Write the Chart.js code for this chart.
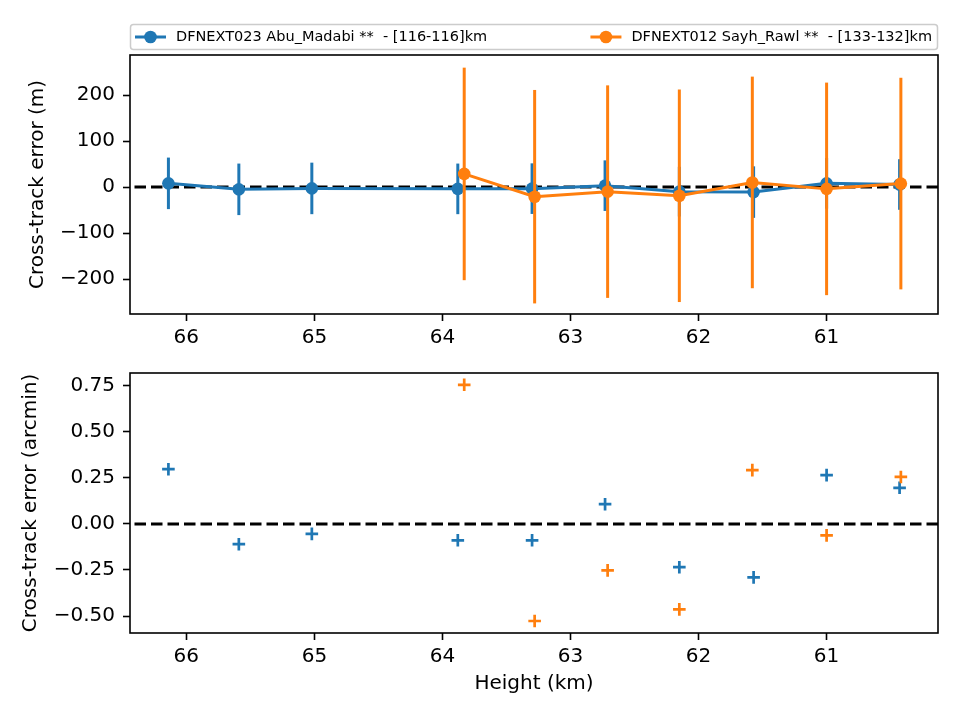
<!DOCTYPE html>
<html lang="en">
<head>
  <meta charset="UTF-8" />
  <title>Cross-track error vs height</title>
  <script src="https://cdn.jsdelivr.net/npm/chart.js"></script>
  <style>
    body { margin: 0; background: #fff; }
    #wrap { position: relative; width: 960px; height: 720px; }
    canvas { position: absolute; left: 0; }
  </style>
</head>
<body>
<div id="wrap">
  <canvas id="topChart" width="960" height="360" style="top:0"></canvas>
  <canvas id="bottomChart" width="960" height="380" style="top:340px"></canvas>
</div>
<script>
  // --- data ---
  const labelA = 'DFNEXT023 Abu_Madabi **  - [116-116]km';
  const labelB = 'DFNEXT012 Sayh_Rawl **  - [133-132]km';

  const heightA = [66.14, 65.59, 65.02, 63.88, 63.30, 62.73, 62.15, 61.57, 61.00, 60.43];
  const errMetresA = [8, -5, -3, -4, -3.5, 3, -10, -11, 8, 5.5];
  const sigmaMetresA = [56, 56, 56, 55, 55, 55, 54, 56, 55, 55];
  const errArcminA = [0.297, -0.110, -0.054, -0.089, -0.089, 0.107, -0.235, -0.290, 0.265, 0.196];

  const heightB = [63.83, 63.28, 62.71, 62.15, 61.58, 61.00, 60.42];
  const errMetresB = [28.5, -21, -10, -19, 10, -4, 7.5];
  const sigmaMetresB = [231, 232, 231, 231, 230, 231, 230];
  const errArcminB = [0.755, -0.527, -0.252, -0.464, 0.292, -0.062, 0.255];

  const xLimits = [60.13, 66.44];
  const xTicks = [61, 62, 63, 64, 65, 66];
  const yLimitsTop = [-276, 287];
  const yTicksTop = [-200, -100, 0, 100, 200];
  const yLimitsBottom = [-0.592, 0.819];
  const yTicksBottom = [-0.5, -0.25, 0, 0.25, 0.5, 0.75];

  const BLUE = '#1f77b4';
  const ORANGE = '#ff7f0e';
  const FONT = 'DejaVu Sans';

  const pts = (xs, ys) => xs.map((x, i) => ({ x, y: ys[i] }));
  const minus = s => String(s).replace('-', '\u2212');

  // vertical error bars, drawn just before their own series
  const errorBars = {
    id: 'errorBars',
    beforeDatasetDraw(chart, args) {
      const ds = chart.data.datasets[args.index];
      if (!ds.errors) return;
      const { ctx, chartArea: a, scales: { x, y } } = chart;
      ctx.save();
      ctx.beginPath();
      ctx.rect(a.left, a.top, a.width, a.height);
      ctx.clip();
      ctx.strokeStyle = ds.borderColor;
      ctx.lineWidth = 3;
      ds.data.forEach((p, i) => {
        const px = x.getPixelForValue(p.x);
        ctx.beginPath();
        ctx.moveTo(px, y.getPixelForValue(p.y - ds.errors[i]));
        ctx.lineTo(px, y.getPixelForValue(p.y + ds.errors[i]));
        ctx.stroke();
      });
      ctx.restore();
    }
  };

  // full box around the axes
  const frame = {
    id: 'frame',
    afterDraw(chart) {
      const { ctx, chartArea: a } = chart;
      ctx.save();
      ctx.strokeStyle = '#000';
      ctx.lineWidth = 1.6;
      ctx.strokeRect(a.left, a.top, a.width, a.height);
      ctx.restore();
    }
  };

  // matplotlib style legend spread across the top of the axes
  const boxLegend = {
    id: 'boxLegend',
    afterDraw(chart) {
      const { ctx, chartArea: a } = chart;
      const items = chart.data.datasets.filter(d => d.inLegend);
      const top = 24.5, h = 25, cy = top + h / 2;
      ctx.save();
      ctx.fillStyle = 'rgba(255,255,255,0.8)';
      ctx.strokeStyle = '#cccccc';
      ctx.lineWidth = 1.5;
      ctx.beginPath();
      ctx.roundRect(a.left + 0.5, top, a.width - 1, h, 3);
      ctx.fill();
      ctx.stroke();
      ctx.font = '14.5px "' + FONT + '"';
      ctx.textBaseline = 'middle';
      items.forEach((d, i) => {
        const tw = ctx.measureText(d.label).width;
        const x0 = i === 0 ? a.left + 5 : a.right - 6 - tw - 41;
        ctx.strokeStyle = d.borderColor;
        ctx.lineWidth = 3;
        ctx.beginPath();
        ctx.moveTo(x0, cy);
        ctx.lineTo(x0 + 31, cy);
        ctx.stroke();
        ctx.fillStyle = d.borderColor;
        ctx.beginPath();
        ctx.arc(x0 + 15.5, cy, 6.3, 0, Math.PI * 2);
        ctx.fill();
        ctx.fillStyle = '#000';
        ctx.fillText(d.label, x0 + 41, cy);
      });
      ctx.restore();
    }
  };

  function xAxis(height, title) {
    return {
      type: 'linear',
      reverse: true,
      min: xLimits[0],
      max: xLimits[1],
      afterBuildTicks: s => { s.ticks = xTicks.map(v => ({ value: v })); },
      afterFit: s => { s.height = height; },
      border: { display: false },
      grid: { drawOnChartArea: false, drawTicks: true, tickLength: 7, tickWidth: 1.6, tickColor: '#000' },
      ticks: { color: '#000', padding: 5, font: { family: FONT, size: 20 }, maxRotation: 0, callback: v => v },
      title: title
    };
  }

  function yAxis(limits, ticks, fmt, text, titlePad) {
    return {
      min: limits[0],
      max: limits[1],
      afterBuildTicks: s => { s.ticks = ticks.map(v => ({ value: v })); },
      afterFit: s => { s.width = 130; },
      border: { display: false },
      grid: { drawOnChartArea: false, drawTicks: true, tickLength: 7, tickWidth: 1.6, tickColor: '#000' },
      ticks: { color: '#000', padding: 8, font: { family: FONT, size: 20 }, callback: fmt },
      title: { display: true, text, color: '#000', font: { family: FONT, size: 20 }, padding: { top: titlePad, bottom: 0 } }
    };
  }

  const zeroLine = {
    data: pts(xLimits, [0, 0]),
    showLine: true,
    borderColor: '#000',
    borderWidth: 3,
    borderDash: [11.5, 5],
    pointRadius: 0,
    order: 3
  };

  new Chart(document.getElementById('topChart'), {
    type: 'scatter',
    data: {
      datasets: [
        {
          label: labelA, inLegend: true, data: pts(heightA, errMetresA), errors: sigmaMetresA,
          showLine: true, borderColor: BLUE, backgroundColor: BLUE, borderWidth: 3,
          pointRadius: 6.3, pointBorderWidth: 0, order: 2
        },
        {
          label: labelB, inLegend: true, data: pts(heightB, errMetresB), errors: sigmaMetresB,
          showLine: true, borderColor: ORANGE, backgroundColor: ORANGE, borderWidth: 3,
          pointRadius: 6.3, pointBorderWidth: 0, order: 1
        },
        Object.assign({ label: 'zero' }, zeroLine)
      ]
    },
    options: {
      responsive: false,
      devicePixelRatio: 1,
      animation: false,
      layout: { padding: { left: 0, right: 22, top: 55, bottom: 0 } },
      plugins: { legend: { display: false }, tooltip: { enabled: false } },
      scales: {
        x: xAxis(46, { display: false }),
        y: yAxis(yLimitsTop, yTicksTop, v => minus(v), 'Cross-track error (m)', 26)
      }
    },
    plugins: [errorBars, frame, boxLegend]
  });

  new Chart(document.getElementById('bottomChart'), {
    type: 'scatter',
    data: {
      datasets: [
        {
          label: labelA, data: pts(heightA, errArcminA), pointStyle: 'cross',
          pointRadius: 6.3, pointBorderWidth: 2.7, borderColor: BLUE, backgroundColor: BLUE, order: 2
        },
        {
          label: labelB, data: pts(heightB, errArcminB), pointStyle: 'cross',
          pointRadius: 6.3, pointBorderWidth: 2.7, borderColor: ORANGE, backgroundColor: ORANGE, order: 1
        },
        Object.assign({ label: 'zero' }, zeroLine)
      ]
    },
    options: {
      responsive: false,
      devicePixelRatio: 1,
      animation: false,
      layout: { padding: { left: 0, right: 22, top: 33, bottom: 0 } },
      plugins: { legend: { display: false }, tooltip: { enabled: false } },
      scales: {
        x: xAxis(87, {
          display: true, text: 'Height (km)', color: '#000',
          font: { family: FONT, size: 20 }, padding: { top: 0, bottom: 24 }
        }),
        y: yAxis(yLimitsBottom, yTicksBottom, v => minus(v.toFixed(2)), 'Cross-track error (arcmin)', 19)
      }
    },
    plugins: [frame]
  });
</script>
</body>
</html>
